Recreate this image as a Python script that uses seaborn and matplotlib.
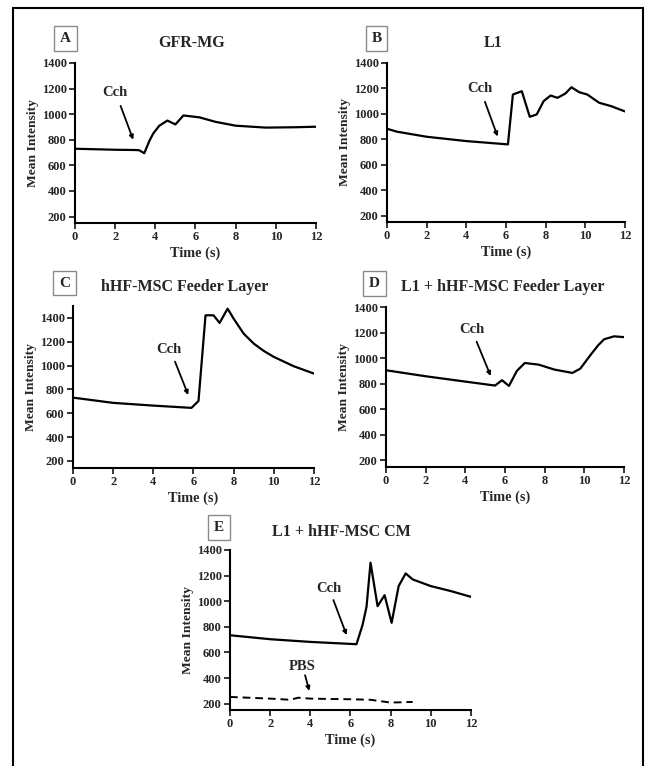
import matplotlib
matplotlib.use("Agg")
import matplotlib.pyplot as plt
from matplotlib.lines import Line2D
import seaborn as sns
import pandas as pd

# ── data ──────────────────────────────────────────────────────────────────────
A_t = [0, 1, 2, 3.0, 3.2, 3.45, 3.7, 3.9, 4.2, 4.6, 5.0, 5.4, 6.2, 7.0, 8.0, 9.5, 11, 12]
A_y = [730, 726, 722, 720, 718, 695, 790, 850, 910, 950, 920, 990, 975, 940, 910, 895, 898, 902]

B_t = [0, 0.5, 2, 4, 6.1, 6.35, 6.8, 7.2, 7.55, 7.9, 8.25, 8.6, 9.0, 9.3, 9.7, 10.1, 10.7, 11.3, 12]
B_y = [883, 860, 820, 786, 760, 1152, 1178, 977, 995, 1100, 1144, 1126, 1160, 1209, 1170, 1152, 1087, 1061, 1019]

C_t = [0, 2, 4, 5.9, 6.25, 6.6, 7.0, 7.3, 7.7, 8.0, 8.5, 9.0, 9.5, 10, 11, 12]
C_y = [731, 687, 664, 645, 703, 1422, 1422, 1358, 1478, 1394, 1268, 1185, 1123, 1073, 994, 933]

D_t = [0, 2, 4, 5.5, 5.85, 6.2, 6.6, 7.0, 7.7, 8.5, 9.4, 9.8, 10.3, 10.7, 11.0, 11.5, 12]
D_y = [904, 857, 815, 784, 826, 781, 899, 961, 948, 909, 883, 917, 1021, 1100, 1147, 1170, 1164]

E_t = [0, 2, 4, 6.3, 6.6, 6.8, 7.0, 7.35, 7.7, 8.05, 8.4, 8.75, 9.1, 10, 11, 12]
E_y = [734, 703, 682, 664, 813, 956, 1301, 961, 1047, 831, 1118, 1217, 1170, 1118, 1079, 1034]

PBS_t = [0, 2, 3, 3.4, 4, 5, 6, 7, 8, 9.1]
PBS_y = [252, 239, 230, 246, 239, 236, 234, 230, 208, 213]

LETTERS = ["A", "B", "C", "D", "E"]
TITLES = ["GFR-MG", "L1", "hHF-MSC Feeder Layer", "L1 + hHF-MSC Feeder Layer", "L1 + hHF-MSC CM"]

sns.set_style("ticks")
plt.rcParams["font.family"] = ["Liberation Serif", "DejaVu Serif"]
plt.rcParams["font.weight"] = "bold"

fig = plt.figure(figsize=(6.46, 7.66), dpi=100)

# axes rectangles in figure fraction (left, bottom, width, height)
rects = [
    (0.1161, 0.7089, 0.373, 0.2089),
    (0.5990, 0.7102, 0.3684, 0.2076),
    (0.1130, 0.3890, 0.373, 0.2115),
    (0.5975, 0.3903, 0.3684, 0.2089),
    (0.3560, 0.0731, 0.373, 0.2089),
]
ylims = [(150, 1400), (150, 1400), (140, 1500), (145, 1400), (150, 1400)]
series = [(A_t, A_y), (B_t, B_y), (C_t, C_y), (D_t, D_y), (E_t, E_y)]

# Cch annotation: (text xy, arrow tail, arrow head) in data coords
cch = [
    ((2.0, 1170), (2.27, 1065), (2.9, 800)),
    ((4.69, 1197), (4.94, 1095), (5.58, 822)),
    ((4.78, 1131), (5.08, 1033), (5.74, 753)),
    ((4.32, 1220), (4.57, 1128), (5.28, 859)),
    ((4.95, 1100), (5.15, 1009), (5.81, 735)),
]

title_pos = [(0.297, 0.944), (0.763, 0.944), (0.286, 0.625), (0.779, 0.625), (0.529, 0.305)]
box_pos = [(0.101, 0.950), (0.583, 0.950), (0.0998, 0.6305), (0.58, 0.630), (0.339, 0.311)]

for i, r in enumerate(rects):
    ax = fig.add_axes(r)
    t, y = series[i]
    df = pd.DataFrame({"t": t, "y": y})
    sns.lineplot(data=df, x="t", y="y", ax=ax, color="black", lw=1.6,
                 estimator=None, sort=False)
    if i == 4:
        dfp = pd.DataFrame({"t": PBS_t, "y": PBS_y})
        sns.lineplot(data=dfp, x="t", y="y", ax=ax, color="black", lw=1.4,
                     estimator=None, sort=False, linestyle=(0, (4, 2.5)))
    ax.set_xlim(0, 12)
    ax.set_ylim(*ylims[i])
    ax.set_xticks(range(0, 13, 2))
    ax.set_yticks(range(200, 1401, 200))
    for s in ["top", "right"]:
        ax.spines[s].set_visible(False)
    for s in ["left", "bottom"]:
        ax.spines[s].set_linewidth(1.5)
        ax.spines[s].set_color("black")
    ax.tick_params(direction="out", length=4, width=1.3, labelsize=9, pad=2)
    for lab in ax.get_xticklabels() + ax.get_yticklabels():
        lab.set_fontweight("bold")
    ax.set_xlabel("Time (s)", fontsize=10.3, fontweight="bold", labelpad=2)
    ax.set_ylabel("Mean Intensity", fontsize=9.7, fontweight="bold", labelpad=2)

    txt, tail, head = cch[i]
    ax.text(*txt, "Cch", ha="center", va="center", fontsize=10.5, fontweight="bold")
    ax.annotate("", xy=head, xytext=tail,
                arrowprops=dict(arrowstyle="-|>", color="black", lw=1.3,
                                mutation_scale=6, shrinkA=0, shrinkB=0))
    if i == 4:
        ax.text(3.62, 487, "PBS", ha="center", va="center", fontsize=10.5, fontweight="bold")
        ax.annotate("", xy=(3.95, 299), xytext=(3.74, 422),
                    arrowprops=dict(arrowstyle="-|>", color="black", lw=1.3,
                                    mutation_scale=6, shrinkA=0, shrinkB=0))

    fig.text(*title_pos[i], TITLES[i], ha="center", va="center",
             fontsize=11.5, fontweight="bold")
    fig.text(*box_pos[i], LETTERS[i], ha="center", va="center",
             fontsize=11, fontweight="bold",
             bbox=dict(boxstyle="square,pad=0.38", fc="white", ec="#8a8a8a", lw=1))

# outer frame (open at the bottom)
fl, fr, ft = 13 / 646, 643 / 646, 1 - 8 / 766
for xs, ys in [([fl, fl], [-0.05, ft]), ([fl, fr], [ft, ft]), ([fr, fr], [ft, -0.05])]:
    fig.add_artist(Line2D(xs, ys, transform=fig.transFigure, color="black", lw=1.5))

plt.savefig("out.png", dpi=100)
plt.close()
